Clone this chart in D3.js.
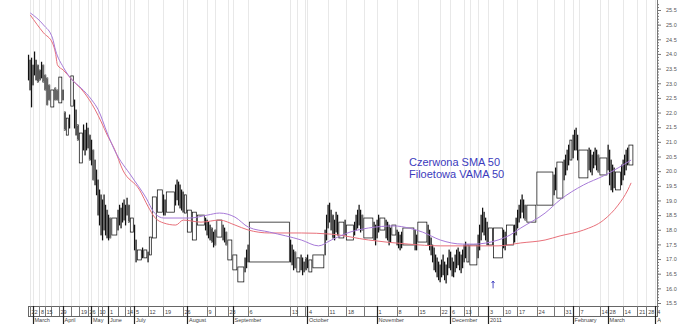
<!DOCTYPE html>
<html>
<head>
<meta charset="utf-8">
<script src="https://cdn.jsdelivr.net/npm/d3@7"></script>
<style>
  body { margin: 0; background: #fff; }
  svg { display: block; font-family: "Liberation Sans", Arial, sans-serif; }
</style>
</head>
<body>
<svg id="chart" width="693" height="330"></svg>
<script>
// equivolume boxes: high, low, volume (hundreds)
const highs = [
  23.96, 23.79, 23.86, 23.62, 24.07, 23.79, 23.62, 23.45, 23.72, 23.62,
  23.28, 23.18, 22.94, 22.77, 22.84, 22.77, 23.21, 22.77, 22.02, 21.81,
  21.92, 23.25, 22.43, 22.09, 21.58, 21.30, 21.58, 21.40, 21.64, 21.47,
  21.23, 21.06, 20.72, 20.38, 20.04, 19.70, 19.36, 19.19, 19.02, 19.19,
  18.84, 18.67, 18.50, 18.40, 18.40, 18.67, 18.84, 18.74, 18.91, 19.02,
  18.84, 19.08, 18.84, 18.40, 18.16, 17.65, 17.31, 17.38, 17.31, 17.24,
  17.75, 19.12, 19.36, 19.19, 19.02, 19.29, 19.53, 19.70, 19.63, 19.53,
  19.36, 19.29, 19.19, 18.67, 18.60, 18.50, 18.40, 18.33, 18.26, 18.16,
  18.06, 17.92, 17.99, 18.33, 18.16, 18.06, 17.92, 17.65, 17.14, 16.73,
  17.04, 17.31, 17.48, 18.26, 17.65, 17.48, 17.31, 17.24, 17.04, 17.14,
  17.04, 16.90, 17.04, 17.14, 16.97, 17.14, 17.99, 18.50, 18.84, 18.91,
  18.67, 18.50, 18.33, 18.60, 18.50, 18.26, 18.33, 18.16, 18.26, 18.50,
  18.67, 18.84, 18.67, 18.50, 18.40, 18.26, 18.16, 18.33, 18.50, 18.40,
  18.33, 18.26, 18.16, 18.06, 18.16, 17.99, 17.92, 17.82, 17.92, 18.06,
  17.99, 17.82, 18.26, 18.16, 17.99, 17.72, 17.48, 17.38, 17.14, 17.04,
  16.90, 16.80, 16.97, 17.14, 16.90, 16.80, 17.04, 17.31, 17.24, 17.04,
  16.90, 17.14, 17.31, 17.38, 17.24, 17.14, 17.31, 17.48, 17.58, 17.48,
  17.48, 17.82, 18.16, 18.50, 18.74, 18.60, 18.40, 18.26, 18.06, 18.06,
  17.99, 17.92, 18.16, 18.16, 18.40, 18.67, 18.84, 19.02, 19.19, 19.02,
  18.84, 18.84, 19.97, 19.87, 20.11, 20.31, 20.38, 20.55, 20.72, 20.89,
  21.06, 21.23, 21.40, 21.47, 21.23, 20.72, 20.79, 20.72, 20.55, 20.65,
  20.79, 20.72, 20.55, 20.45, 20.89, 20.72, 20.38, 20.21, 20.11, 19.97,
  20.21, 20.38, 20.55, 20.72, 20.79, 20.89
];
const lows = [
  23.11, 22.77, 22.19, 22.94, 23.28, 23.11, 23.04, 23.11, 23.18, 23.04,
  22.77, 22.26, 22.43, 22.19, 22.43, 22.43, 22.33, 22.43, 21.40, 21.23,
  21.47, 22.22, 21.47, 21.23, 21.06, 20.28, 20.72, 20.55, 20.72, 20.79,
  20.38, 20.21, 19.70, 19.53, 19.19, 18.50, 18.16, 17.82, 17.65, 17.99,
  17.82, 17.72, 17.65, 17.72, 17.82, 17.99, 18.16, 18.06, 18.26, 18.33,
  18.16, 18.50, 18.26, 17.92, 17.31, 16.90, 16.97, 17.04, 17.04, 16.90,
  17.14, 17.72, 18.60, 18.50, 18.50, 18.60, 18.84, 19.02, 18.84, 18.74,
  18.67, 18.60, 18.57, 17.92, 17.65, 18.16, 17.99, 17.82, 17.72, 17.65,
  17.58, 17.41, 17.48, 17.75, 17.65, 17.58, 17.48, 16.97, 16.63, 16.22,
  16.56, 16.70, 16.90, 16.90, 16.90, 16.80, 16.63, 16.70, 16.56, 16.63,
  16.46, 16.56, 16.63, 16.70, 16.56, 16.70, 17.14, 17.65, 18.06, 18.26,
  17.99, 17.72, 17.65, 17.92, 17.82, 17.72, 17.82, 17.65, 17.82, 17.99,
  18.06, 18.16, 17.92, 17.99, 17.72, 17.65, 17.48, 17.72, 17.92, 17.99,
  17.72, 17.65, 17.48, 17.58, 17.82, 17.48, 17.38, 17.31, 17.38, 17.48,
  17.31, 17.31, 17.58, 17.48, 17.31, 17.14, 16.90, 16.63, 16.56, 16.39,
  16.29, 16.22, 16.39, 16.46, 16.29, 16.18, 16.46, 16.70, 16.63, 16.42,
  16.39, 16.56, 16.70, 16.80, 16.63, 16.53, 16.70, 16.90, 17.04, 16.90,
  16.80, 17.04, 17.31, 17.65, 17.92, 17.82, 17.65, 17.48, 17.48, 17.04,
  17.38, 17.31, 17.48, 17.58, 17.82, 18.06, 18.26, 18.40, 18.60, 18.40,
  18.33, 18.26, 18.84, 19.19, 19.36, 19.08, 19.70, 19.87, 20.04, 20.21,
  20.38, 20.45, 20.72, 20.72, 20.38, 19.77, 20.04, 19.97, 19.87, 20.11,
  20.21, 20.04, 19.97, 19.87, 20.04, 19.53, 19.36, 19.29, 19.43, 19.36,
  19.53, 19.70, 19.87, 20.04, 20.21, 20.21
];
const volumes = [
  150, 150, 150, 150, 150, 150, 200, 200, 150, 200,
  200, 200, 200, 400, 200, 200, 400, 150, 200, 300,
  150, 350, 150, 150, 200, 400, 150, 150, 150, 150,
  200, 150, 200, 150, 150, 150, 150, 150, 150, 150,
  150, 150, 150, 200, 600, 150, 150, 150, 150, 150,
  150, 150, 200, 400, 150, 150, 500, 150, 400, 150,
  300, 500, 600, 150, 150, 900, 150, 150, 150, 150,
  150, 150, 300, 500, 500, 800, 150, 150, 150, 150,
  200, 150, 200, 600, 150, 150, 200, 500, 500, 700,
  150, 150, 150, 4100, 150, 150, 150, 200, 400, 150,
  150, 150, 200, 150, 400, 1200, 150, 150, 150, 150,
  150, 200, 150, 150, 150, 600, 150, 800, 150, 150,
  150, 150, 150, 200, 1000, 150, 150, 150, 150, 600,
  150, 150, 150, 150, 500, 150, 150, 150, 150, 1200,
  150, 150, 1000, 150, 150, 150, 150, 150, 150, 150,
  150, 150, 150, 150, 150, 150, 150, 150, 150, 150,
  150, 150, 150, 150, 150, 150, 150, 150, 150, 300,
  800, 150, 150, 150, 150, 150, 150, 150, 500, 1000,
  150, 150, 800, 150, 150, 150, 150, 150, 150, 150,
  200, 1000, 1700, 150, 150, 700, 150, 150, 150, 150,
  300, 150, 150, 150, 150, 1000, 150, 150, 150, 150,
  150, 150, 200, 800, 150, 150, 150, 150, 150, 600,
  150, 150, 150, 150, 150, 500
];

// moving averages, [box index, value]
const smaPoints = [
  [1, 25.33], [9, 24.72], [13, 24.37], [14, 24.03], [15, 23.62], [17, 23.45],
  [21, 23.11], [26, 22.70], [33, 22.09], [37, 21.68], [41, 21.23], [44, 20.75],
  [48, 20.04], [56, 19.36], [59, 18.78], [61, 18.43], [63, 18.23], [66, 18.16],
  [71, 18.33], [75, 18.26], [83, 18.33], [88, 18.16], [92, 17.99], [93, 17.89],
  [99, 17.89], [110, 17.85], [124, 17.65], [139, 17.51], [151, 17.45], [170, 17.45],
  [179, 17.45], [187, 17.55], [192, 17.65], [195, 17.79], [205, 17.99], [213, 18.33],
  [219, 18.84], [224, 19.36], [225, 19.60]
];
const vamaPoints = [
  [1, 25.40], [9, 24.99], [13, 24.54], [14, 24.13], [17, 23.55], [21, 23.11],
  [25, 22.84], [31, 22.43], [35, 22.09], [41, 21.30], [44, 20.72], [53, 19.80],
  [58, 19.12], [61, 18.57], [63, 18.40], [73, 18.40], [77, 18.50], [83, 18.57],
  [88, 18.43], [92, 18.09], [93, 17.92], [99, 17.65], [105, 17.45], [110, 17.65],
  [117, 17.92], [124, 18.06], [134, 18.13], [139, 18.06], [142, 17.92], [151, 17.65],
  [166, 17.51], [170, 17.51], [179, 17.65], [182, 17.82], [187, 18.06], [192, 18.57],
  [195, 19.02], [205, 19.53], [213, 19.84], [219, 20.11], [225, 20.38]
];

// date ticks: [box index, day label, month label]
const dateTicks = [
  [1, '22', ''], [3, '1', 'March'], [7, '8', ''], [10, '15', ''], [13, '22', ''],
  [16, '29', ''], [17, '5', 'April'], [21, '', ''], [25, '19', ''], [29, '26', ''],
  [31, '3', 'May'], [35, '10', ''], [38, '17', ''], [42, '1', 'June'], [45, '', ''],
  [50, '14', ''], [53, '', ''], [54, '5', 'July'], [59, '12', ''], [63, '19', ''],
  [71, '26', ''], [73, '', 'August'], [77, '9', ''], [82, '', ''], [87, '23', ''],
  [88, '', 'September'], [92, '6', ''], [94, '13', ''], [98, '20', ''], [102, '', ''],
  [103, '4', 'October'], [108, '11', ''], [117, '18', ''], [124, '', ''],
  [127, '1', 'November'], [135, '8', ''], [142, '15', ''], [151, '22', ''],
  [158, '6', 'December'], [167, '13', ''], [170, '20', ''], [171, '', ''],
  [178, '3', '2011'], [180, '10', ''], [185, '17', ''], [192, '24', ''], [193, '', ''],
  [196, '31', ''], [201, '', 'February'], [205, '7', ''], [213, '14', ''],
  [214, '28', 'March'], [221, '14', '']
];
// ticks after the last session: [sessions ahead, day label, month label]
const futureTicks = [[2, '21', ''], [7, '28', ''], [12, '4', 'April']];
const FUTURE_DAY_VOL = 180;
const FUTURE_DAYS = 13;

const yTickValues = d3.range(21).map(i => 15.5 + i * 0.5);
const yMinorValues = d3.range(104).map(i => 15.4 + i * 0.1);

const notes = ['Czerwona SMA 50', 'Filoetowa VAMA 50'];
const arrowAt = [179, 16.0, 16.25];

const svg = d3.select('#chart');
const plotLeft = 28;
const plotRight = 657;
const plotTop = 0;
const plotBottom = 306;

const starts = [];
let total = 0;
volumes.forEach(v => { starts.push(total); total += v; });

const x = d3.scaleLinear()
  .domain([0, total + FUTURE_DAYS * FUTURE_DAY_VOL])
  .range([plotLeft, plotRight]);
const y = d3.scaleLinear().domain([15.5, 25.5]).range([303, 10]);

const tickX = t => x(starts[t[0]]);
const futureX = t => x(total + t[0] * FUTURE_DAY_VOL);
const allTicks = dateTicks.map(t => ({ x: tickX(t), day: t[1], month: t[2] }))
  .concat(futureTicks.map(t => ({ x: futureX(t), day: t[1], month: t[2] })));

// day labels that do not fit next to the previous one are skipped
let lastEnd = -Infinity;
allTicks.forEach(t => {
  t.showDay = false;
  if (t.day && t.x + 1.5 >= lastEnd) {
    t.showDay = true;
    lastEnd = t.x + 2 + t.day.length * 3.1;
  }
});

svg.append('defs').append('clipPath').attr('id', 'clip')
  .append('rect').attr('x', 0).attr('y', 0).attr('width', plotRight + 4).attr('height', 330);

// vertical grid
svg.append('g').selectAll('line').data(allTicks).join('line')
  .attr('x1', d => Math.round(d.x) + 0.5).attr('x2', d => Math.round(d.x) + 0.5)
  .attr('y1', plotTop).attr('y2', plotBottom)
  .attr('stroke', '#e8e8e8').attr('stroke-width', 1);

// equivolume boxes
svg.append('g').selectAll('rect').data(volumes).join('rect')
  .attr('x', (d, i) => x(starts[i]) + 0.3)
  .attr('y', (d, i) => y(highs[i]))
  .attr('width', (d, i) => Math.max(0.3, x(starts[i] + d) - x(starts[i]) - 1))
  .attr('height', (d, i) => y(lows[i]) - y(highs[i]))
  .attr('fill', '#fff')
  .attr('stroke', '#111')
  .attr('stroke-width', 0.75);

const mid = i => x(starts[i] + volumes[i] / 2);
const line = d3.line().x(d => mid(d[0])).y(d => y(d[1])).curve(d3.curveMonotoneX);

svg.append('path').datum(smaPoints).attr('d', line)
  .attr('fill', 'none').attr('stroke', '#e8707a').attr('stroke-width', 1);
svg.append('path').datum(vamaPoints).attr('d', line)
  .attr('fill', 'none').attr('stroke', '#a77ad8').attr('stroke-width', 1);

// notes
svg.append('g').selectAll('text').data(notes).join('text')
  .attr('x', 409).attr('y', (d, i) => 166 + i * 12)
  .attr('font-size', 11).attr('fill', '#3b3bbd')
  .text(d => d);

// small blue arrow
const ax = x(starts[arrowAt[0]]);
svg.append('path')
  .attr('d', `M${ax},${y(arrowAt[1])}V${y(arrowAt[2])}M${ax - 1.5},${y(arrowAt[2]) + 2}L${ax},${y(arrowAt[2])}L${ax + 1.5},${y(arrowAt[2]) + 2}`)
  .attr('fill', 'none').attr('stroke', '#3b3bbd').attr('stroke-width', 0.9);

// right value axis
const yMinor = svg.append('g').attr('transform', `translate(${plotRight},0)`)
  .call(d3.axisRight(y).tickValues(yMinorValues).tickSize(2).tickFormat(''));
yMinor.select('.domain').remove();
yMinor.selectAll('text').remove();
const yMajor = svg.append('g').attr('transform', `translate(${plotRight},0)`)
  .call(d3.axisRight(y).tickValues(yTickValues).tickSize(4).tickPadding(5).tickFormat(d3.format('.1f')));
yMajor.select('.domain').remove();
yMajor.selectAll('text').attr('font-size', 5.5).attr('fill', '#555').attr('font-family', '"Liberation Sans", Arial, sans-serif');
svg.selectAll('.tick line').attr('stroke', '#777');
svg.append('line').attr('x1', plotRight + 0.5).attr('x2', plotRight + 0.5)
  .attr('y1', plotTop).attr('y2', plotBottom + 10).attr('stroke', '#777');

// date axis
const dateAxis = svg.append('g').attr('clip-path', 'url(#clip)');
dateAxis.append('rect')
  .attr('x', plotLeft + 0.5).attr('y', plotBottom + 0.5)
  .attr('width', plotRight - plotLeft).attr('height', 10)
  .attr('fill', '#fff').attr('stroke', '#666');
dateAxis.selectAll('line.tk').data(allTicks).join('line').attr('class', 'tk')
  .attr('x1', d => Math.round(d.x) + 0.5).attr('x2', d => Math.round(d.x) + 0.5)
  .attr('y1', plotBottom).attr('y2', d => d.month ? plotBottom + 18 : plotBottom + 10)
  .attr('stroke', d => d.month ? '#222' : '#777')
  .attr('stroke-width', d => d.month ? 1.2 : 1);
dateAxis.selectAll('text.day').data(allTicks.filter(d => d.showDay)).join('text').attr('class', 'day')
  .attr('x', d => d.x + 2).attr('y', plotBottom + 7.5)
  .attr('font-size', 5.5).attr('fill', '#444').text(d => d.day);
dateAxis.selectAll('text.mon').data(allTicks.filter(d => d.month)).join('text').attr('class', 'mon')
  .attr('x', d => d.x + 2).attr('y', plotBottom + 16)
  .attr('font-size', 5.5).attr('fill', '#444').text(d => d.month);
</script>
</body>
</html>
